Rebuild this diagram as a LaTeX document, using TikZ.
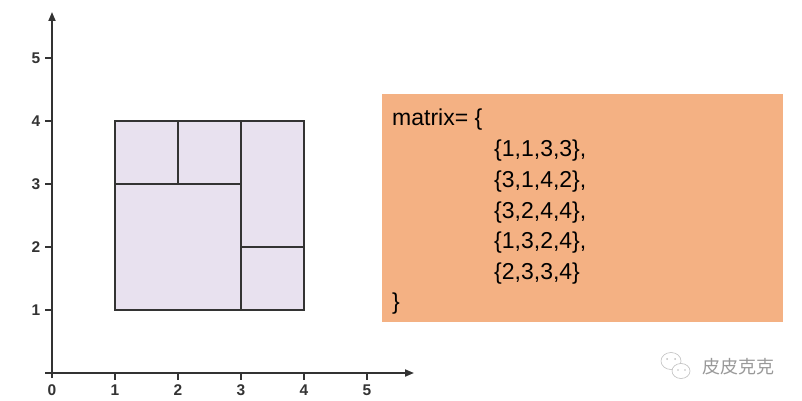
\documentclass[tikz,border=0pt]{standalone}
\usepackage{fontspec}
\setmainfont{Liberation Sans}
\newfontfamily\cjk{Noto Sans CJK SC}
\usetikzlibrary{arrows.meta}
\definecolor{axisc}{HTML}{333333}
\definecolor{cellfill}{HTML}{E8E1EF}
\definecolor{boxorange}{HTML}{F4B183}
\begin{document}
\begin{tikzpicture}[x=1pt,y=1pt,
  axis/.style={draw=axisc,line width=1.8pt,-{Triangle[length=9pt,width=7pt]}},
  tickmark/.style={draw=axisc,line width=1.5pt},
  ticklabel/.style={font=\fontsize{15.5}{17}\selectfont\bfseries,text=axisc,inner sep=0pt},
  cell/.style={fill=cellfill,draw=axisc,line width=1.6pt},
  codeline/.style={anchor=base west,inner sep=0pt,font=\fontsize{23}{28}\selectfont}]
\useasboundingbox (0,0) rectangle (802,400);
% axes
\coordinate (xs) at (45,27);
\coordinate (xe) at (414,27);
\coordinate (ys) at (52,22);
\coordinate (ye) at (52,388);
\draw[axis] (xs) -- (xe);
\draw[axis] (ys) -- (ye);
% ticks and labels
\foreach \i in {1,...,5}{
  \coordinate (xt\i) at ({52+63*\i},27);
  \coordinate (xb\i) at ({52+63*\i},20);
  \draw[tickmark] (xt\i) -- (xb\i);
  \node[ticklabel] (xl\i) at ({52+63*\i},10) {\i};
  \coordinate (yt\i) at (52,{27+63*\i});
  \coordinate (yb\i) at (45,{27+63*\i});
  \draw[tickmark] (yt\i) -- (yb\i);
  \node[ticklabel] (yl\i) at (36,{27+63*\i}) {\i};
}
\node[ticklabel] (xl0) at (52,10) {0};
% rectangles (unit = 63pt, origin at (52,27))
\begin{scope}[shift={(52,27)},x=63pt,y=63pt]
  \draw[cell] (1,3) rectangle (2,4);
  \draw[cell] (2,3) rectangle (3,4);
  \draw[cell] (3,2) rectangle (4,4);
  \draw[cell] (1,1) rectangle (3,3);
  \draw[cell] (3,1) rectangle (4,2);
\end{scope}
% orange box
\fill[boxorange] (382,78) rectangle (783,306);
\node[codeline] (l0) at (392,275) {matrix= \{};
\node[codeline] (l1) at (494,244) {\{1,1,3,3\},};
\node[codeline] (l2) at (494,213) {\{3,1,4,2\},};
\node[codeline] (l3) at (494,182) {\{3,2,4,4\},};
\node[codeline] (l4) at (494,152) {\{1,3,2,4\},};
\node[codeline] (l5) at (494,121) {\{2,3,3,4\}};
\node[codeline] (l6) at (392,91) {\}};
% watermark
\begin{scope}[draw=gray!50,line width=0.6pt]
  \draw (671,39) ellipse (10pt and 8.5pt);
  \draw[fill=white] (681,29) ellipse (9pt and 7.5pt);
  \fill[gray!50] (667,41) circle (1pt) (675,41) circle (1pt) (678,30) circle (0.9pt) (685,30) circle (0.9pt);
\end{scope}
\node[inner sep=0pt,text=gray!80,font=\cjk\fontsize{18}{20}\selectfont] (wm) at (738,33) {皮皮克克};
\end{tikzpicture}
\end{document}
